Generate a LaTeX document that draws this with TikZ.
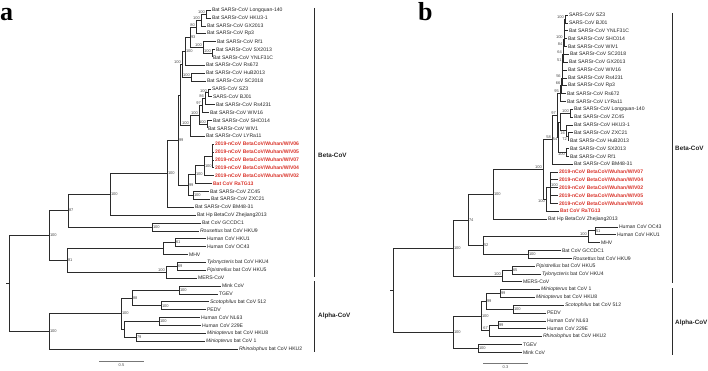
\documentclass[tikz,border=0pt]{standalone}
\usepackage{fontspec}
\setmainfont{Liberation Sans}
\newfontfamily\panelfont{Liberation Serif}
\usepackage{tikz}
\usetikzlibrary{positioning}
\definecolor{cLine}{HTML}{2B2B2B}
\definecolor{cTxt}{HTML}{222222}
\definecolor{cBoot}{HTML}{4A4A4A}
\definecolor{cNCoV}{HTML}{D9342B}
\definecolor{cBar}{HTML}{777777}
\tikzset{
  br/.style={draw=cLine, line width=0.5pt},
  leaf/.style={anchor=west, inner sep=0.8pt, font=\fontsize{5.1}{5.1}\selectfont, text=cTxt},
  leafred/.style={leaf, text=cNCoV, font=\fontsize{5.1}{5.1}\selectfont\bfseries},
  bs/.style={inner sep=0.5pt, font=\fontsize{4}{4}\selectfont, text=cBoot},
  bsl/.style={bs, anchor=south east, xshift=-0.4pt},
  bsb/.style={bs, anchor=north east, xshift=-0.4pt},
  bsr/.style={bs, anchor=west, xshift=0.3pt},
  clade/.style={draw=cLine, line width=0.6pt},
  cladetxt/.style={anchor=west, inner sep=0pt, font=\fontsize{6.3}{6.3}\selectfont\bfseries, text=cTxt},
  panel/.style={anchor=base west, inner sep=0pt, font=\panelfont\fontsize{26}{26}\selectfont\bfseries},
  sbar/.style={draw=cBar, line width=0.9pt},
  scl/.style={bs, anchor=north}
}
\newcommand{\gen}[1]{\textit{#1}}

\begin{document}
\begin{tikzpicture}[x=1pt, y=-1pt]
\useasboundingbox (0,0) rectangle (708,371);
% panel letters
\node[panel] (pa) at (0,21) {a};
\node[panel] (pb) at (418,21) {b};

% ================= tree a =================
% leaves
\node[leaf] (aLQ) at (211,10.0) {Bat SARSr-CoV Longquan-140};
\node[leaf] (aHK3) at (211,17.9) {Bat SARSr-CoV HKU3-1};
\node[leaf] (aGX) at (206,25.8) {Bat SARSr-CoV GX2013};
\node[leaf] (aRp3) at (206,33.7) {Bat SARSr-CoV Rp3};
\node[leaf] (aRf1) at (216,41.5) {Bat SARSr-CoV Rf1};
\node[leaf] (aSX) at (215,49.4) {Bat SARSr-CoV SX2013};
\node[leaf] (aYN) at (212,57.3) {Bat SARSr-CoV YNLF31C};
\node[leaf] (aRs672) at (205,65.2) {Bat SARSr-CoV Rs672};
\node[leaf] (aHuB) at (205,73.1) {Bat SARSr-CoV HuB2013};
\node[leaf] (aSC) at (206,81.0) {Bat SARSr-CoV SC2018};
\node[leaf] (aSZ3) at (211,88.8) {SARS-CoV SZ3};
\node[leaf] (aBJ) at (212,96.7) {SARS-CoV BJ01};
\node[leaf] (aRs4231) at (215,104.6) {Bat SARSr-CoV Rs4231};
\node[leaf] (aWIV16) at (209,112.5) {Bat SARSr-CoV WIV16};
\node[leaf] (aSHC) at (212,120.4) {Bat SARSr-CoV SHC014};
\node[leaf] (aWIV1) at (207,128.3) {Bat SARSr-CoV WIV1};
\node[leaf] (aLYR) at (205,136.1) {Bat SARSr-CoV LYRa11};
\node[leafred] (aN06) at (214,144.0) {2019-nCoV BetaCoV/Wuhan/WIV06};
\node[leafred] (aN05) at (214,151.9) {2019-nCoV BetaCoV/Wuhan/WIV05};
\node[leafred] (aN07) at (214,159.8) {2019-nCoV BetaCoV/Wuhan/WIV07};
\node[leafred] (aN04) at (214,167.7) {2019-nCoV BetaCoV/Wuhan/WIV04};
\node[leafred] (aN02) at (214,175.6) {2019-nCoV BetaCoV/Wuhan/WIV02};
\node[leafred] (aRaTG) at (212,183.4) {Bat CoV RaTG13};
\node[leaf] (aZC45) at (209,191.3) {Bat SARSr-CoV ZC45};
\node[leaf] (aZXC) at (210,199.2) {Bat SARSr-CoV ZXC21};
\node[leaf] (aBM) at (194,207.1) {Bat SARSr-CoV BM48-31};
\node[leaf] (aZJ) at (196,215.0) {Bat Hp BetaCoV Zhejiang2013};
\node[leaf] (aGCC) at (201,222.9) {Bat CoV GCCDC1};
\node[leaf] (aHKU9) at (199,230.8) {\gen{Rousettus} bat CoV HKU9};
\node[leaf] (aHKU1) at (206,238.6) {Human CoV HKU1};
\node[leaf] (aOC43) at (206,246.5) {Human CoV OC43};
\node[leaf] (aMHV) at (188,254.4) {MHV};
\node[leaf] (aHKU4) at (206,262.3) {\gen{Tylonycteris} bat CoV HKU4};
\node[leaf] (aHKU5) at (206,270.2) {\gen{Pipistrellus} bat CoV HKU5};
\node[leaf] (aMERS) at (197,278.1) {MERS-CoV};
\node[leaf] (aMink) at (221,285.9) {Mink CoV};
\node[leaf] (aTGEV) at (218,293.8) {TGEV};
\node[leaf] (aScoto) at (209,301.7) {\gen{Scotophilus} bat CoV 512};
\node[leaf] (aPEDV) at (206,309.6) {PEDV};
\node[leaf] (aNL63) at (200,317.5) {Human CoV NL63};
\node[leaf] (a229E) at (201,325.4) {Human CoV 229E};
\node[leaf] (aHKU8) at (206,333.3) {\gen{Miniopterus} bat CoV HKU8};
\node[leaf] (aMini1) at (205,341.1) {\gen{Miniopterus} bat CoV 1};
\node[leaf] (aHKU2) at (238,349.0) {\gen{Rhinolophus} bat CoV HKU2};
% internal nodes
\coordinate (a1) at (206,13.95);
\coordinate (a2) at (201,19.9);
\coordinate (a3) at (196,26.8);
\coordinate (ar1) at (212,53.35);
\coordinate (ar2) at (203,47.4);
\coordinate (a4) at (190,37.1);
\coordinate (a5) at (185,51.15);
\coordinate (ah1) at (191,77.05);
\coordinate (a6) at (182,64.1);
\coordinate (as1) at (208,92.75);
\coordinate (as2) at (205,98.7);
\coordinate (as3) at (202,105.6);
\coordinate (aw1) at (207,124.35);
\coordinate (as4) at (199,114.95);
\coordinate (as5) at (190,125.5);
\coordinate (aQ) at (180,94.8);
\coordinate (aW1) at (212,155.85);
\coordinate (aW) at (204,165.7);
\coordinate (aNR) at (195,174.55);
\coordinate (aZZ) at (193,195.25);
\coordinate (aN2) at (188,184.9);
\coordinate (aS2) at (178,139.85);
\coordinate (aS1) at (167,173.5);
\coordinate (aS) at (110,194.25);
\coordinate (aNb) at (152,226.85);
\coordinate (a87) at (68,210.55);
\coordinate (ae1) at (175,242.55);
\coordinate (aE) at (163,248.5);
\coordinate (am1) at (177,266.25);
\coordinate (aM) at (166,272.2);
\coordinate (a81) at (67,260.35);
\coordinate (aBeta) at (49,235.45);
\coordinate (amt) at (179,289.85);
\coordinate (asp) at (161,305.65);
\coordinate (aA2) at (132,297.75);
\coordinate (anl) at (159,321.45);
\coordinate (amh) at (136,337.2);
\coordinate (aA3) at (124,329.3);
\coordinate (aA1) at (121,313.5);
\coordinate (aAlpha) at (49,331.25);
\coordinate (aRoot) at (9.5,283.35);
\coordinate (aStub) at (6,283.35);
% branches
\draw[br] (a1) |- (aLQ.west) (a1) |- (aHK3.west);
\draw[br] (a2) |- (a1) (a2) |- (aGX.west);
\draw[br] (a3) |- (a2) (a3) |- (aRp3.west);
\draw[br] (ar1) |- (aSX.west) (ar1) |- (aYN.west);
\draw[br] (ar2) |- (aRf1.west) (ar2) |- (ar1);
\draw[br] (a4) |- (a3) (a4) |- (ar2);
\draw[br] (a5) |- (a4) (a5) |- (aRs672.west);
\draw[br] (ah1) |- (aHuB.west) (ah1) |- (aSC.west);
\draw[br] (a6) |- (a5) (a6) |- (ah1);
\draw[br] (as1) |- (aSZ3.west) (as1) |- (aBJ.west);
\draw[br] (as2) |- (as1) (as2) |- (aRs4231.west);
\draw[br] (as3) |- (as2) (as3) |- (aWIV16.west);
\draw[br] (aw1) |- (aSHC.west) (aw1) |- (aWIV1.west);
\draw[br] (as4) |- (as3) (as4) |- (aw1);
\draw[br] (as5) |- (as4) (as5) |- (aLYR.west);
\draw[br] (aQ) |- (a6) (aQ) |- (as5);
\draw[br] (aW1) |- (aN06.west) (aW1) |- (aN05.west) (aW1) |- (aN07.west) (aW1) |- (aN04.west);
\draw[br] (aW) |- (aW1) (aW) |- (aN02.west);
\draw[br] (aNR) |- (aW) (aNR) |- (aRaTG.west);
\draw[br] (aZZ) |- (aZC45.west) (aZZ) |- (aZXC.west);
\draw[br] (aN2) |- (aNR) (aN2) |- (aZZ);
\draw[br] (aS2) |- (aQ) (aS2) |- (aN2);
\draw[br] (aS1) |- (aS2) (aS1) |- (aBM.west);
\draw[br] (aS) |- (aS1) (aS) |- (aZJ.west);
\draw[br] (aNb) |- (aGCC.west) (aNb) |- (aHKU9.west);
\draw[br] (a87) |- (aS) (a87) |- (aNb);
\draw[br] (ae1) |- (aHKU1.west) (ae1) |- (aOC43.west);
\draw[br] (aE) |- (ae1) (aE) |- (aMHV.west);
\draw[br] (am1) |- (aHKU4.west) (am1) |- (aHKU5.west);
\draw[br] (aM) |- (am1) (aM) |- (aMERS.west);
\draw[br] (a81) |- (aE) (a81) |- (aM);
\draw[br] (aBeta) |- (a87) (aBeta) |- (a81);
\draw[br] (amt) |- (aMink.west) (amt) |- (aTGEV.west);
\draw[br] (asp) |- (aScoto.west) (asp) |- (aPEDV.west);
\draw[br] (aA2) |- (amt) (aA2) |- (asp);
\draw[br] (anl) |- (aNL63.west) (anl) |- (a229E.west);
\draw[br] (amh) |- (aHKU8.west) (amh) |- (aMini1.west);
\draw[br] (aA3) |- (anl) (aA3) |- (amh);
\draw[br] (aA1) |- (aA2) (aA1) |- (aA3);
\draw[br] (aAlpha) |- (aA1) (aAlpha) |- (aHKU2.west);
\draw[br] (aRoot) |- (aBeta) (aRoot) |- (aAlpha);
\draw[br] (aStub) -- (aRoot);
% bootstrap values
\node[bsl] (la1) at (a1) {100};
\node[bsl] (la2) at (a2) {100};
\node[bsl] (la3) at (a3) {80};
\node[bsr] (la4) at (a4) {93};
\node[bsl] (lar2) at (ar2) {100};
\node[bsl] (lar1) at (ar1) {100};
\node[bsr] (la5) at (a5) {100};
\node[bsl] (la6) at (a6) {100};
\node[bsl] (lah1) at (ah1) {100};
\node[bsl] (las1) at (as1) {100};
\node[bsl] (las2) at (as2) {86};
\node[bsl] (las3) at (as3) {97};
\node[bsl] (las4) at (as4) {100};
\node[bsl] (law1) at (aw1) {100};
\node[bsl] (las5) at (as5) {100};
\node[bsr] (laW) at (aW) {100};
\node[bsr] (laNR) at (aNR) {100};
\node[bsr] (laZZ) at (aZZ) {100};
\node[bsr] (laN2) at (aN2) {99};
\node[bsr] (laS2) at (aS2) {99};
\node[bsr] (laS1) at (aS1) {100};
\node[bsr] (laS) at (aS) {100};
\node[bsr] (laNb) at (aNb) {100};
\node[bsr] (la87) at (a87) {87};
\node[bsr] (lae1) at (ae1) {61};
\node[bsr] (lam1) at (am1) {69};
\node[bsl] (laM) at (aM) {100};
\node[bsr] (la81) at (a81) {81};
\node[bsr] (laBeta) at (aBeta) {100};
\node[bsr] (lamt) at (amt) {100};
\node[bsr] (lasp) at (asp) {100};
\node[bsr] (laA2) at (aA2) {88};
\node[bsr] (lanl) at (anl) {100};
\node[bsr] (lamh) at (amh) {79};
\node[bsr] (laA1) at (aA1) {100};
\node[bsr] (laAlpha) at (aAlpha) {100};
% genus brackets
\coordinate (aBetaT) at (314,8);
\coordinate (aBetaB) at (314,277);
\coordinate (aAlphaT) at (314,281);
\coordinate (aAlphaB) at (314,352);
\draw[clade] (aBetaT) -- (aBetaB);
\draw[clade] (aAlphaT) -- (aAlphaB);
\node[cladetxt] (aBetaLbl) at (318,155) {Beta-CoV};
\node[cladetxt] (aAlphaLbl) at (318,316) {Alpha-CoV};
% scale
\coordinate (aSc1) at (99,361);
\coordinate (aSc2) at (144,361);
\draw[sbar] (aSc1) -- (aSc2);
\node[scl] (aScLbl) at (121.5,363) {0.5};

% ================= tree b =================
% leaves
\node[leaf] (bSZ3) at (568,15.0) {SARS-CoV SZ3};
\node[leaf] (bBJ) at (568,22.8) {SARS-CoV BJ01};
\node[leaf] (bYN) at (568,30.7) {Bat SARSr-CoV YNLF31C};
\node[leaf] (bSHC) at (567,38.5) {Bat SARSr-CoV SHC014};
\node[leaf] (bWIV1) at (567,46.4) {Bat SARSr-CoV WIV1};
\node[leaf] (bSC) at (569,54.2) {Bat SARSr-CoV SC2018};
\node[leaf] (bGX) at (568,62.1) {Bat SARSr-CoV GX2013};
\node[leaf] (bWIV16) at (567,69.9) {Bat SARSr-CoV WIV16};
\node[leaf] (bRs4231) at (567,77.8) {Bat SARSr-CoV Rs4231};
\node[leaf] (bRp3) at (567,85.6) {Bat SARSr-CoV Rp3};
\node[leaf] (bRs672) at (566,93.4) {Bat SARSr-CoV Rs672};
\node[leaf] (bLYR) at (566,101.3) {Bat SARSr-CoV LYRa11};
\node[leaf] (bLQ) at (573,109.1) {Bat SARSr-CoV Longquan-140};
\node[leaf] (bZC45) at (573,117.0) {Bat SARSr-CoV ZC45};
\node[leaf] (bHK3) at (573,124.8) {Bat SARSr-CoV HKU3-1};
\node[leaf] (bZXC) at (573,132.7) {Bat SARSr-CoV ZXC21};
\node[leaf] (bHuB) at (569,140.5) {Bat SARSr-CoV HuB2013};
\node[leaf] (bSX) at (569,148.3) {Bat SARSr-CoV SX2013};
\node[leaf] (bRf1) at (569,156.2) {Bat SARSr-CoV Rf1};
\node[leaf] (bBM) at (573,164.0) {Bat SARSr-CoV BM48-31};
\node[leafred] (bN07) at (558,171.9) {2019-nCoV BetaCoV/Wuhan/WIV07};
\node[leafred] (bN04) at (558,179.7) {2019-nCoV BetaCoV/Wuhan/WIV04};
\node[leafred] (bN02) at (558,187.6) {2019-nCoV BetaCoV/Wuhan/WIV02};
\node[leafred] (bN05) at (558,195.4) {2019-nCoV BetaCoV/Wuhan/WIV05};
\node[leafred] (bN06) at (558,203.3) {2019-nCoV BetaCoV/Wuhan/WIV06};
\node[leafred] (bRaTG) at (559,211.1) {Bat CoV RaTG13};
\node[leaf] (bZJ) at (547,218.9) {Bat Hp BetaCoV Zhejiang2013};
\node[leaf] (bOC43) at (618,226.8) {Human CoV OC43};
\node[leaf] (bHKU1) at (616,234.6) {Human CoV HKU1};
\node[leaf] (bMHV) at (600,242.5) {MHV};
\node[leaf] (bGCC) at (561,250.3) {Bat CoV GCCDC1};
\node[leaf] (bHKU9) at (572,258.2) {\gen{Rousettus} bat CoV HKU9};
\node[leaf] (bHKU5) at (535,266.0) {\gen{Pipistrellus} bat CoV HKU5};
\node[leaf] (bHKU4) at (541,273.8) {\gen{Tylonycteris} bat CoV HKU4};
\node[leaf] (bMERS) at (522,281.7) {MERS-CoV};
\node[leaf] (bMini1) at (540,289.5) {\gen{Miniopterus} bat CoV 1};
\node[leaf] (bHKU8) at (535,297.4) {\gen{Miniopterus} bat CoV HKU8};
\node[leaf] (bScoto) at (564,305.2) {\gen{Scotophilus} bat CoV 512};
\node[leaf] (bPEDV) at (546,313.1) {PEDV};
\node[leaf] (bNL63) at (546,320.9) {Human CoV NL63};
\node[leaf] (b229E) at (546,328.7) {Human CoV 229E};
\node[leaf] (bHKU2) at (542,336.6) {\gen{Rhinolophus} bat CoV HKU2};
\node[leaf] (bTGEV) at (522,344.4) {TGEV};
\node[leaf] (bMink) at (522,352.3) {Mink CoV};
% internal nodes
\coordinate (b1) at (565,18.9);
\coordinate (b2) at (564.6,24.8);
\coordinate (b3) at (564.2,31.65);
\coordinate (b4) at (563.8,39.03);
\coordinate (b5) at (563.4,46.6);
\coordinate (b6) at (563,54.35);
\coordinate (b7) at (562.6,62.13);
\coordinate (b8) at (562.2,69.96);
\coordinate (b9) at (561.8,77.78);
\coordinate (b10) at (561.4,85.59);
\coordinate (b11) at (560,93.45);
\coordinate (bc1) at (570,113.05);
\coordinate (bc3) at (568,136.6);
\coordinate (bc4) at (566,130.7);
\coordinate (bc5) at (560,121.9);
\coordinate (bd1) at (566,152.25);
\coordinate (bc6) at (558.5,137.1);
\coordinate (btop) at (557,115.25);
\coordinate (bT) at (552,139.6);
\coordinate (bW) at (550.5,187.6);
\coordinate (bR) at (546,199.35);
\coordinate (bS) at (543,169.5);
\coordinate (bH) at (493,194.2);
\coordinate (be1) at (595,230.7);
\coordinate (bE) at (588,236.6);
\coordinate (bNb) at (528,254.25);
\coordinate (b52) at (483,245.4);
\coordinate (b74) at (468,219.8);
\coordinate (bm1) at (512,269.9);
\coordinate (bM) at (502,275.8);
\coordinate (bBeta) at (453,247.8);
\coordinate (bg1) at (500,293.45);
\coordinate (bg2) at (513,309.15);
\coordinate (bg3) at (486,301.3);
\coordinate (bg4) at (498,324.8);
\coordinate (bg5) at (489,330.7);
\coordinate (bg6) at (481,316.0);
\coordinate (bg7) at (478,348.35);
\coordinate (bAlpha) at (453,332.2);
\coordinate (bRoot) at (393,290.0);
\coordinate (bStub) at (390,290.0);
% branches
\draw[br] (b1) |- (bSZ3.west) (b1) |- (bBJ.west);
\draw[br] (b2) |- (b1) (b2) |- (bYN.west);
\draw[br] (b3) |- (b2) (b3) |- (bSHC.west);
\draw[br] (b4) |- (b3) (b4) |- (bWIV1.west);
\draw[br] (b5) |- (b4) (b5) |- (bSC.west);
\draw[br] (b6) |- (b5) (b6) |- (bGX.west);
\draw[br] (b7) |- (b6) (b7) |- (bWIV16.west);
\draw[br] (b8) |- (b7) (b8) |- (bRs4231.west);
\draw[br] (b9) |- (b8) (b9) |- (bRp3.west);
\draw[br] (b10) |- (b9) (b10) |- (bRs672.west);
\draw[br] (b11) |- (b10) (b11) |- (bLYR.west);
\draw[br] (bc1) |- (bLQ.west) (bc1) |- (bZC45.west);
\draw[br] (bc3) |- (bZXC.west) (bc3) |- (bHuB.west);
\draw[br] (bc4) |- (bHK3.west) (bc4) |- (bc3);
\draw[br] (bc5) |- (bc1) (bc5) |- (bc4);
\draw[br] (bd1) |- (bSX.west) (bd1) |- (bRf1.west);
\draw[br] (bc6) |- (bc5) (bc6) |- (bd1);
\draw[br] (btop) |- (b11) (btop) |- (bc6);
\draw[br] (bT) |- (btop) (bT) |- (bBM.west);
\draw[br] (bW) |- (bN07.west) (bW) |- (bN04.west) (bW) |- (bN02.west) (bW) |- (bN05.west) (bW) |- (bN06.west);
\draw[br] (bR) |- (bW) (bR) |- (bRaTG.west);
\draw[br] (bS) |- (bT) (bS) |- (bR);
\draw[br] (bH) |- (bS) (bH) |- (bZJ.west);
\draw[br] (be1) |- (bOC43.west) (be1) |- (bHKU1.west);
\draw[br] (bE) |- (be1) (bE) |- (bMHV.west);
\draw[br] (bNb) |- (bGCC.west) (bNb) |- (bHKU9.west);
\draw[br] (b52) |- (bE) (b52) |- (bNb);
\draw[br] (b74) |- (bH) (b74) |- (b52);
\draw[br] (bm1) |- (bHKU5.west) (bm1) |- (bHKU4.west);
\draw[br] (bM) |- (bm1) (bM) |- (bMERS.west);
\draw[br] (bBeta) |- (b74) (bBeta) |- (bM);
\draw[br] (bg1) |- (bMini1.west) (bg1) |- (bHKU8.west);
\draw[br] (bg2) |- (bScoto.west) (bg2) |- (bPEDV.west);
\draw[br] (bg3) |- (bg1) (bg3) |- (bg2);
\draw[br] (bg4) |- (bNL63.west) (bg4) |- (b229E.west);
\draw[br] (bg5) |- (bg4) (bg5) |- (bHKU2.west);
\draw[br] (bg6) |- (bg3) (bg6) |- (bg5);
\draw[br] (bg7) |- (bTGEV.west) (bg7) |- (bMink.west);
\draw[br] (bAlpha) |- (bg6) (bAlpha) |- (bg7);
\draw[br] (bRoot) |- (bBeta) (bRoot) |- (bAlpha);
\draw[br] (bStub) -- (bRoot);
% bootstrap values
\node[bsl] (lb1) at (b1) {100};
\node[bsl] (lb4) at (b4) {100};
\node[bsl] (lb5) at (b5) {84};
\node[bsl] (lb6) at (b6) {64};
\node[bsl] (lb7) at (b7) {51};
\node[bsl] (lb9) at (b9) {56};
\node[bsl] (lb10) at (b10) {66};
\node[bsl] (lb11) at (b11) {95};
\node[bsl] (lbc1) at (bc1) {100};
\node[bsb] (lbc4) at (bc4) {16};
\node[bsb] (lbc3) at (bc3) {72};
\node[bsb] (lbd1) at (bd1) {100};
\node[bsb] (lbc6) at (bc6) {54};
\node[bsl] (lbtop) at (btop) {97};
\node[bsl] (lbT) at (bT) {58};
\node[bsl] (lbS) at (bS) {100};
\node[bs, anchor=south west] (lbW) at (bW) {100};
\node[bsb] (lbR) at (bR) {100};
\node[bsr] (lbH) at (bH) {100};
\node[bsr] (lbe1) at (be1) {51};
\node[bsl] (lbE) at (bE) {100};
\node[bsr] (lbNb) at (bNb) {100};
\node[bsr] (lb52) at (b52) {52};
\node[bsr] (lb74) at (b74) {74};
\node[bsr] (lbm1) at (bm1) {65};
\node[bsl] (lbM) at (bM) {100};
\node[bsr] (lbBeta) at (bBeta) {100};
\node[bsr] (lbg1) at (bg1) {99};
\node[bsr] (lbg2) at (bg2) {100};
\node[bsr] (lbg3) at (bg3) {99};
\node[bsr] (lbg4) at (bg4) {99};
\node[bsl] (lbg5) at (bg5) {67};
\node[bsr] (lbg6) at (bg6) {100};
\node[bsr] (lbg7) at (bg7) {100};
\node[bsr] (lbAlpha) at (bAlpha) {100};
% genus brackets
\coordinate (bBetaT) at (672,13);
\coordinate (bBetaB) at (672,283);
\coordinate (bAlphaT) at (672,288);
\coordinate (bAlphaB) at (672,355);
\draw[clade] (bBetaT) -- (bBetaB);
\draw[clade] (bAlphaT) -- (bAlphaB);
\node[cladetxt] (bBetaLbl) at (675,148) {Beta-CoV};
\node[cladetxt] (bAlphaLbl) at (675,323) {Alpha-CoV};
% scale
\coordinate (bSc1) at (483,363);
\coordinate (bSc2) at (528,363);
\draw[sbar] (bSc1) -- (bSc2);
\node[scl] (bScLbl) at (505.5,365) {0.3};
\end{tikzpicture}
\end{document}
